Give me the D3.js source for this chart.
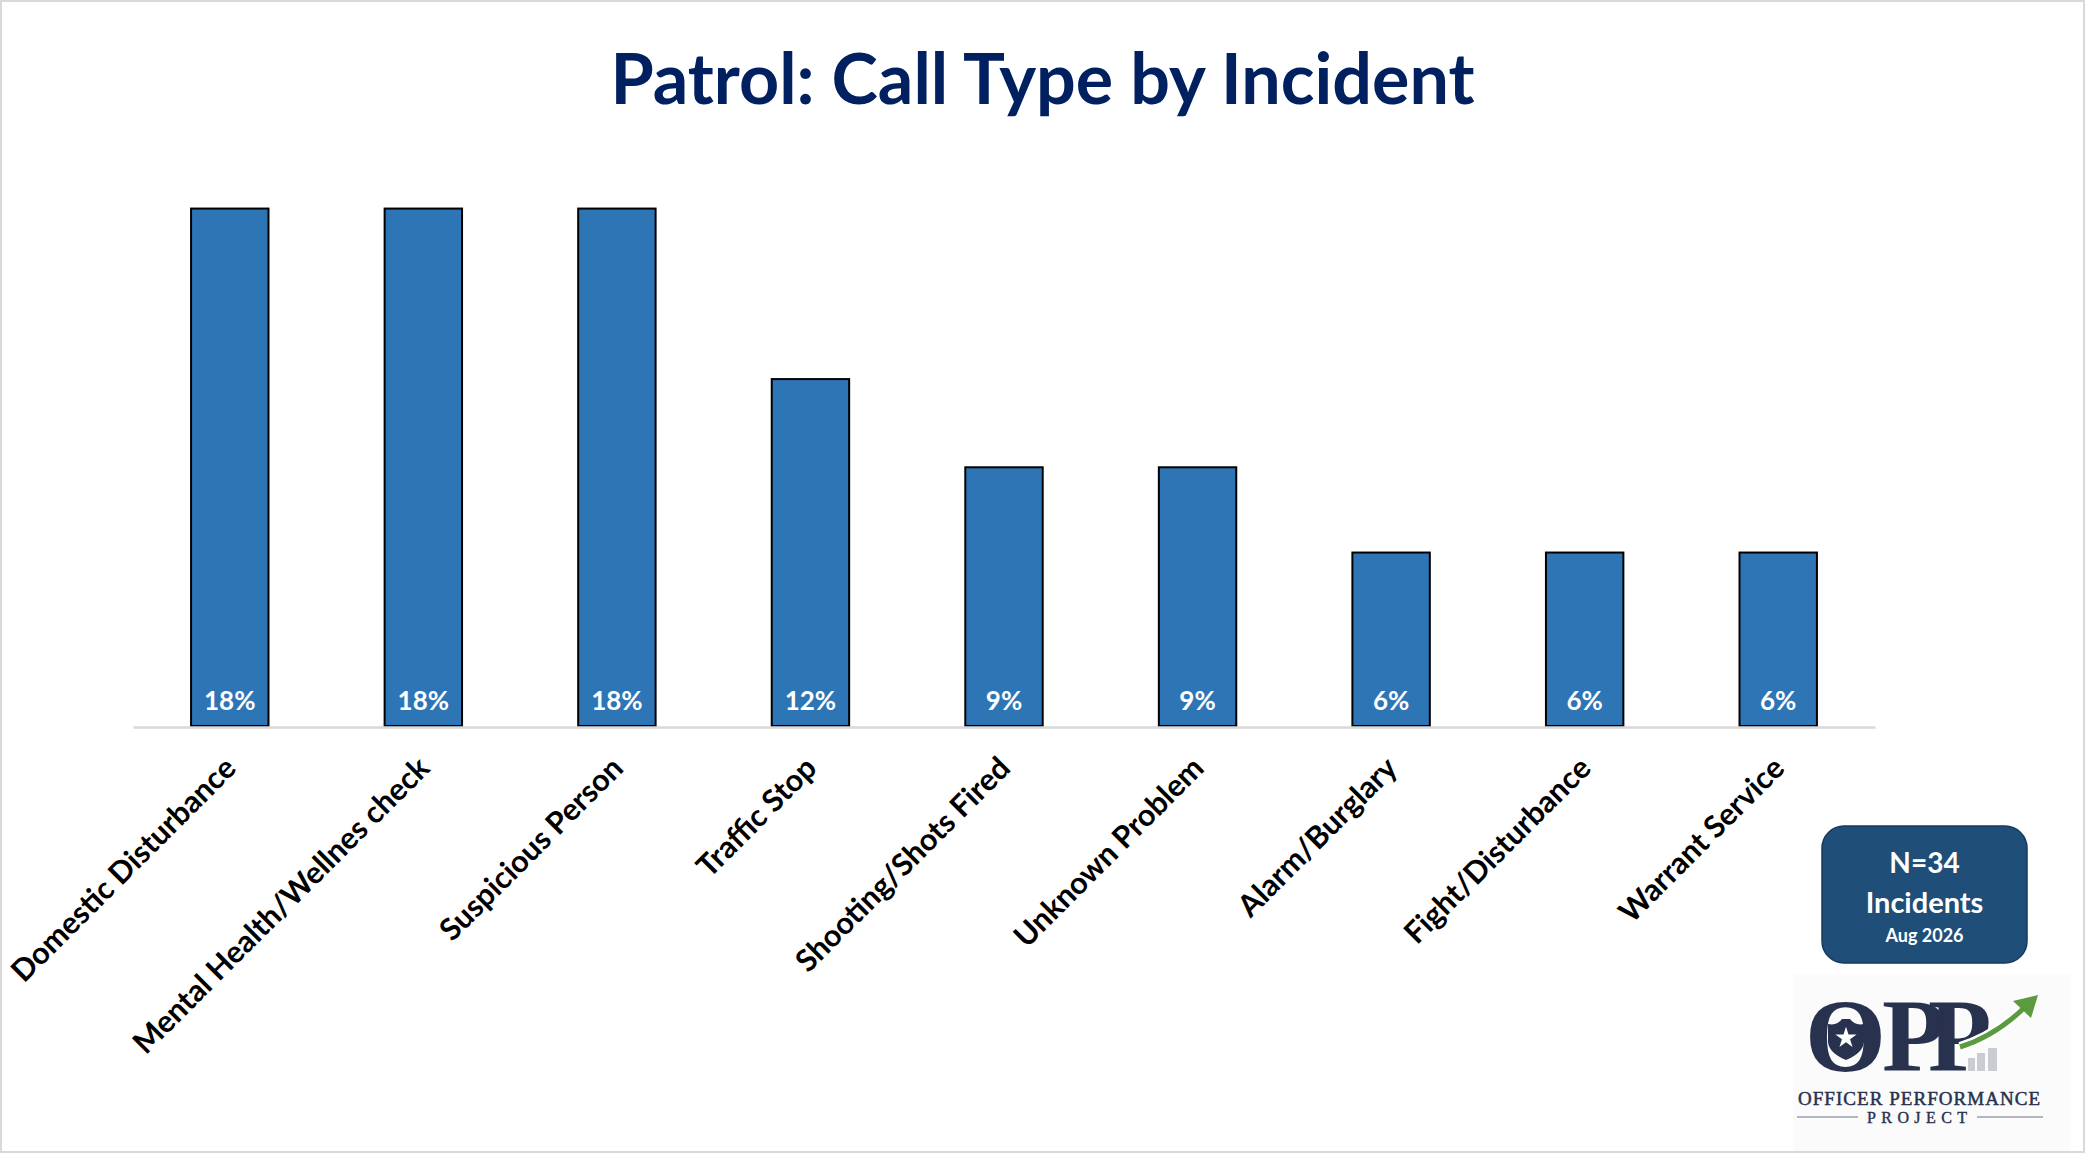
<!DOCTYPE html>
<html>
<head>
<meta charset="utf-8">
<script src="https://cdn.jsdelivr.net/npm/d3@7"></script>
<style>
  html, body { margin: 0; padding: 0; background: #fff; }
  svg { display: block; }
</style>
</head>
<body>
<svg id="chart" width="2085" height="1153"></svg>
<script>
// ---- data ----
const categories = [
  "Domestic Disturbance",
  "Mental Health/Wellnes check",
  "Suspicious Person",
  "Traffic Stop",
  "Shooting/Shots Fired",
  "Unknown Problem",
  "Alarm/Burglary",
  "Fight/Disturbance",
  "Warrant Service"
];
const shares = [0.176, 0.176, 0.176, 0.118, 0.088, 0.088, 0.059, 0.059, 0.059];
const titleText = "Patrol: Call Type by Incident";
const boxLines = ["N=34", "Incidents", "Aug 2026"];

// ---- layout ----
const W = 2085, H = 1153;
const svg = d3.select("#chart");
const FONT = "Lato, 'Open Sans', 'Noto Sans', sans-serif";

svg.append("rect").attr("x", 0).attr("y", 0).attr("width", W).attr("height", H).attr("fill", "#fff");

// title
svg.append("text")
  .attr("x", W / 2).attr("y", 104)
  .attr("text-anchor", "middle")
  .attr("font-family", FONT).attr("font-weight", 700)
  .attr("font-size", 70)
  .attr("fill", "#002060")
  .text(titleText);

const x = d3.scaleBand().domain(categories).range([133, 1875]).paddingInner(0.6).paddingOuter(0.3);
const y = d3.scaleLinear().domain([0, 0.2]).range([726, 138]);

// bars
svg.append("g").selectAll("rect").data(categories).join("rect")
  .attr("x", d => x(d))
  .attr("y", (d, i) => y(shares[i]))
  .attr("width", x.bandwidth())
  .attr("height", (d, i) => y(0) - y(shares[i]))
  .attr("fill", "#2E75B6")
  .attr("stroke", "#000")
  .attr("stroke-width", 2);

// value labels
const fmt = d3.format(".0%");
svg.append("g").selectAll("text").data(categories).join("text")
  .attr("x", d => x(d) + x.bandwidth() / 2)
  .attr("y", y(0) - 16)
  .attr("text-anchor", "middle")
  .attr("font-family", FONT).attr("font-weight", 700)
  .attr("font-size", 26)
  .attr("fill", "#fff")
  .text((d, i) => fmt(shares[i]));

// x axis
const axis = svg.append("g")
  .attr("transform", `translate(0,${y(0) + 1})`)
  .call(d3.axisBottom(x).tickSize(0).tickSizeOuter(0));
axis.select(".domain").attr("stroke", "#D9D9D9").attr("stroke-width", 2.5);
axis.selectAll(".tick text")
  .attr("x", 0).attr("y", 0).attr("dy", 0)
  .attr("text-anchor", "end")
  .attr("transform", "translate(8,43) rotate(-45)")
  .attr("font-family", FONT).attr("font-weight", 700)
  .attr("font-size", 30.5)
  .attr("fill", "#000");

// N box
const box = svg.append("g");
box.append("rect")
  .attr("x", 1822).attr("y", 826).attr("width", 205).attr("height", 137)
  .attr("rx", 22).attr("ry", 22)
  .attr("fill", "#1F4E79").attr("stroke", "#173B5C").attr("stroke-width", 1.5);
const boxSizes = [28, 29, 18];
const boxY = [873, 913, 942];
box.selectAll("text").data(boxLines).join("text")
  .attr("x", 1924.5).attr("y", (d, i) => boxY[i])
  .attr("text-anchor", "middle")
  .attr("font-family", FONT).attr("font-weight", 700)
  .attr("font-size", (d, i) => boxSizes[i])
  .attr("fill", "#fff")
  .text(d => d);

// logo
function drawLogo(g) {
  const navy = "#28324F";
  g.append("rect").attr("x", 1793).attr("y", 974).attr("width", 277).attr("height", 177).attr("fill", "#FBFBFB");
  const SERIF = "'Liberation Serif', 'DejaVu Serif', serif";
  // gray bars
  [[1968, 1058, 7, 13], [1977, 1053, 8, 18], [1988, 1048, 9, 23]].forEach(b => {
    g.append("rect").attr("x", b[0]).attr("y", b[1]).attr("width", b[2]).attr("height", b[3]).attr("fill", "#C9CCD1");
  });
  [["O", 1805], ["P", 1882], ["P", 1928]].forEach(l => {
    g.append("text").attr("x", l[1]).attr("y", 1071).attr("font-family", SERIF).attr("font-weight", 700)
      .attr("font-size", 104).attr("fill", navy).text(l[0]);
  });
  // shield
  g.append("path")
    .attr("transform", "translate(1846,1039)")
    .attr("d", "M-18,-15 Q-9,-13 -4,-20 L4,-20 Q9,-13 18,-15 L18,3 Q17,14 0,21 Q-17,14 -18,3 Z")
    .attr("fill", navy);
  g.append("path")
    .attr("transform", "translate(1846,1038)")
    .attr("d", d3.symbol(d3.symbolStar, 140)())
    .attr("fill", "#fff");
  // arrow
  const shaft = "M1960,1047 Q1995,1036 2024,1008";
  g.append("path").attr("d", shaft).attr("fill", "none").attr("stroke", "#fff").attr("stroke-width", 10);
  g.append("path").attr("d", shaft).attr("fill", "none").attr("stroke", "#5B9A3F").attr("stroke-width", 5);
  g.append("path").attr("d", "M2038,995 L2013,1001 L2031,1018 Z").attr("fill", "#5B9A3F");
  // words
  g.append("text").attr("x", 1798).attr("y", 1105)
    .attr("font-family", SERIF).attr("font-size", 19)
    .attr("textLength", 242).attr("lengthAdjust", "spacing")
    .attr("fill", navy).attr("stroke", navy).attr("stroke-width", 0.5)
    .text("OFFICER PERFORMANCE");
  g.append("text").attr("x", 1867).attr("y", 1123)
    .attr("font-family", SERIF).attr("font-size", 16)
    .attr("textLength", 100).attr("lengthAdjust", "spacing")
    .attr("fill", navy).attr("stroke", navy).attr("stroke-width", 0.4)
    .text("PROJECT");
  g.append("line").attr("x1", 1797).attr("x2", 1858).attr("y1", 1117).attr("y2", 1117).attr("stroke", "#6B7287").attr("stroke-width", 1.2);
  g.append("line").attr("x1", 1977).attr("x2", 2043).attr("y1", 1117).attr("y2", 1117).attr("stroke", "#6B7287").attr("stroke-width", 1.2);
}
drawLogo(svg.append("g"));

// page border
svg.append("rect").attr("x", 1).attr("y", 1).attr("width", W - 2).attr("height", H - 2)
  .attr("fill", "none").attr("stroke", "#D9D9D9").attr("stroke-width", 2);
</script>
</body>
</html>
